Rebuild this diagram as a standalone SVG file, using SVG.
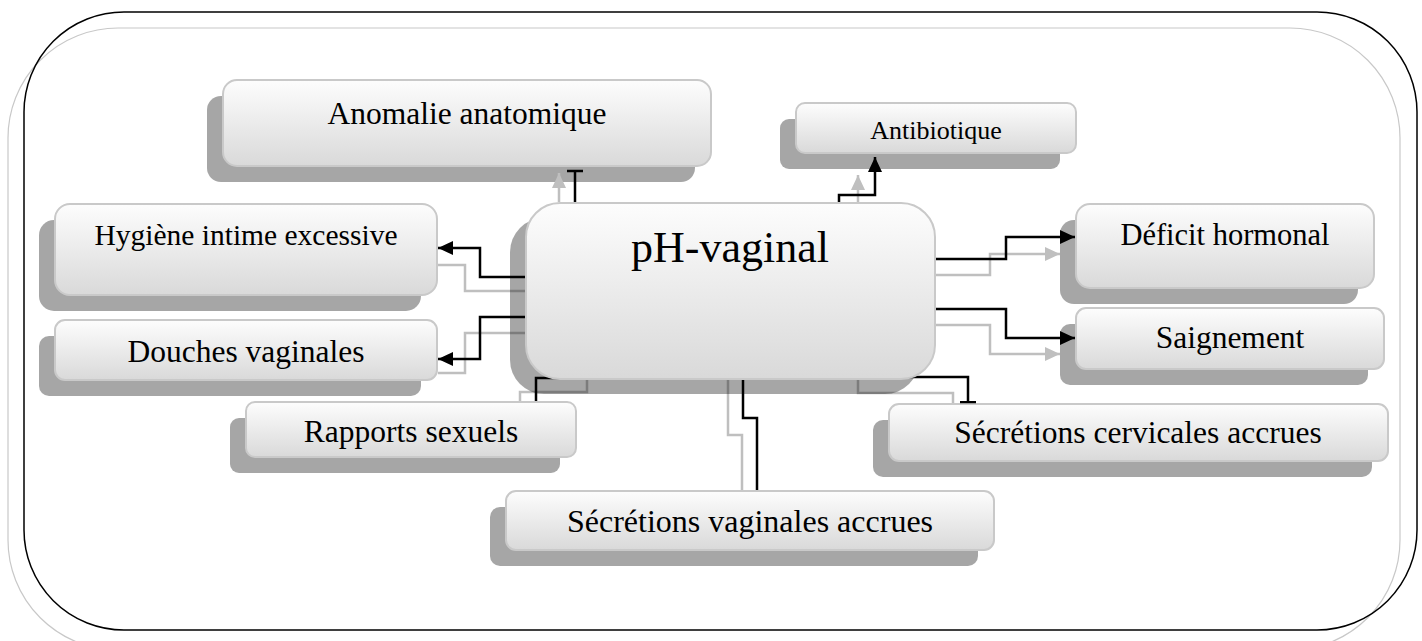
<svg xmlns="http://www.w3.org/2000/svg" width="1422" height="641" viewBox="0 0 1422 641">
<style>
.sh{fill:#000;fill-opacity:.35}
.box{fill:url(#g);stroke:#c9c9c9;stroke-width:2}
.t{font-family:"Liberation Serif","Times New Roman",serif;fill:#000;text-anchor:middle}
.cb{fill:none;stroke:#000;stroke-width:2.5}
.cg{fill:none;stroke:#bfbfbf;stroke-width:2.5}
</style>
<defs>
<linearGradient id="g" x1="0" y1="0" x2="0" y2="1">
<stop offset="0" stop-color="#fdfdfd"/>
<stop offset="1" stop-color="#d9d9d9"/>
</linearGradient>
<marker id="ab" markerUnits="userSpaceOnUse" markerWidth="16" markerHeight="14" refX="15" refY="7" orient="auto"><path d="M0,0 L15,7 L0,14 z" fill="#000"/></marker>
<marker id="ag" markerUnits="userSpaceOnUse" markerWidth="16" markerHeight="14" refX="15" refY="7" orient="auto"><path d="M0,0 L15,7 L0,14 z" fill="#bfbfbf"/></marker>
<marker id="tb" markerUnits="userSpaceOnUse" markerWidth="4" markerHeight="16" refX="1.5" refY="8" orient="auto"><path d="M1.5,0 L1.5,16" stroke="#000" stroke-width="2.5"/></marker>
</defs>
<rect x="8" y="28" width="1392" height="622" rx="110" ry="110" fill="none" stroke="#c8c8c8" stroke-width="1.2"/>
<rect x="24" y="12" width="1393" height="618" rx="100" ry="100" fill="none" stroke="#000" stroke-width="1.5"/>

<g id="anomalie">
<rect class="sh" x="207" y="96" width="488" height="86" rx="14"/>
<rect class="box" x="223" y="80" width="488" height="86" rx="14"/>
<text class="t" x="467" y="124" font-size="31.5">Anomalie anatomique</text>
</g>
<g id="antibiotique">
<rect class="sh" x="780" y="119" width="280" height="50" rx="9"/>
<rect class="box" x="796" y="103" width="280" height="50" rx="9"/>
<text class="t" x="936" y="139" font-size="26">Antibiotique</text>
</g>
<g id="hygiene">
<rect class="sh" x="39" y="220" width="382" height="91" rx="15"/>
<rect class="box" x="55" y="204" width="382" height="91" rx="15"/>
<text class="t" x="246" y="245" font-size="29.5">Hygiène intime excessive</text>
</g>
<g id="douches">
<rect class="sh" x="39" y="336" width="382" height="60" rx="10"/>
<rect class="box" x="55" y="320" width="382" height="60" rx="10"/>
<text class="t" x="246" y="362" font-size="31.5">Douches vaginales</text>
</g>
<g id="rapports">
<rect class="sh" x="230" y="418" width="330" height="55" rx="9"/>
<rect class="box" x="246" y="402" width="330" height="55" rx="9"/>
<text class="t" x="411" y="442" font-size="31.5">Rapports sexuels</text>
</g>
<g id="deficit">
<rect class="sh" x="1060" y="220" width="298" height="84" rx="14"/>
<rect class="box" x="1076" y="204" width="298" height="84" rx="14"/>
<text class="t" x="1225" y="245" font-size="30.5">Déficit hormonal</text>
</g>
<g id="saignement">
<rect class="sh" x="1060" y="324" width="308" height="61" rx="10"/>
<rect class="box" x="1076" y="308" width="308" height="61" rx="10"/>
<text class="t" x="1230" y="348" font-size="31.5">Saignement</text>
</g>
<g id="cervicales">
<rect class="sh" x="873" y="420" width="499" height="57" rx="10"/>
<rect class="box" x="889" y="404" width="499" height="57" rx="10"/>
<text class="t" x="1138" y="443" font-size="31.5">Sécrétions cervicales accrues</text>
</g>
<g id="vaginales">
<rect class="sh" x="490" y="507" width="488" height="59" rx="10"/>
<rect class="box" x="506" y="491" width="488" height="59" rx="10"/>
<text class="t" x="750" y="532" font-size="32">Sécrétions vaginales accrues</text>
</g>

<g id="connectors">
<path class="cg" d="M559,202 V173" marker-end="url(#ag)"/>
<path class="cg" d="M858,202 V175" marker-end="url(#ag)"/>
<path class="cg" d="M438,265 H465 V291 H530"/>
<path class="cg" d="M530,333 H465 V373 H438"/>
<path class="cg" d="M520,401 V392 H587 V375"/>
<path class="cg" d="M728,375 V435 H742 V490"/>
<path class="cg" d="M858,375 V393 H953 V403"/>
<path class="cg" d="M930,275 H990 V254 H1060" marker-end="url(#ag)"/>
<path class="cg" d="M930,325 H990 V354 H1060" marker-end="url(#ag)"/>
<path class="cb" d="M575,202 V171" marker-end="url(#tb)"/>
<path class="cb" d="M839,202 V195 H875 V157" marker-end="url(#ab)"/>
<path class="cb" d="M530,277 H480 V248 H438" marker-end="url(#ab)"/>
<path class="cb" d="M530,317 H480 V359 H438" marker-end="url(#ab)"/>
<path class="cb" d="M560,378 H536 V401"/>
<path class="cb" d="M743,372 V418 H757 V490"/>
<path class="cb" d="M900,377 H968 V402" marker-end="url(#tb)"/>
<path class="cb" d="M930,259 H1006 V237 H1075" marker-end="url(#ab)"/>
<path class="cb" d="M930,309 H1006 V338 H1075" marker-end="url(#ab)"/>
</g>

<g id="ph-vaginal">
<rect class="sh" x="510" y="218" width="409" height="176" rx="34"/>
<rect class="box" x="526" y="203" width="409" height="176" rx="34"/>
<text class="t" x="730" y="262" font-size="44">pH-vaginal</text>
</g>
</svg>
